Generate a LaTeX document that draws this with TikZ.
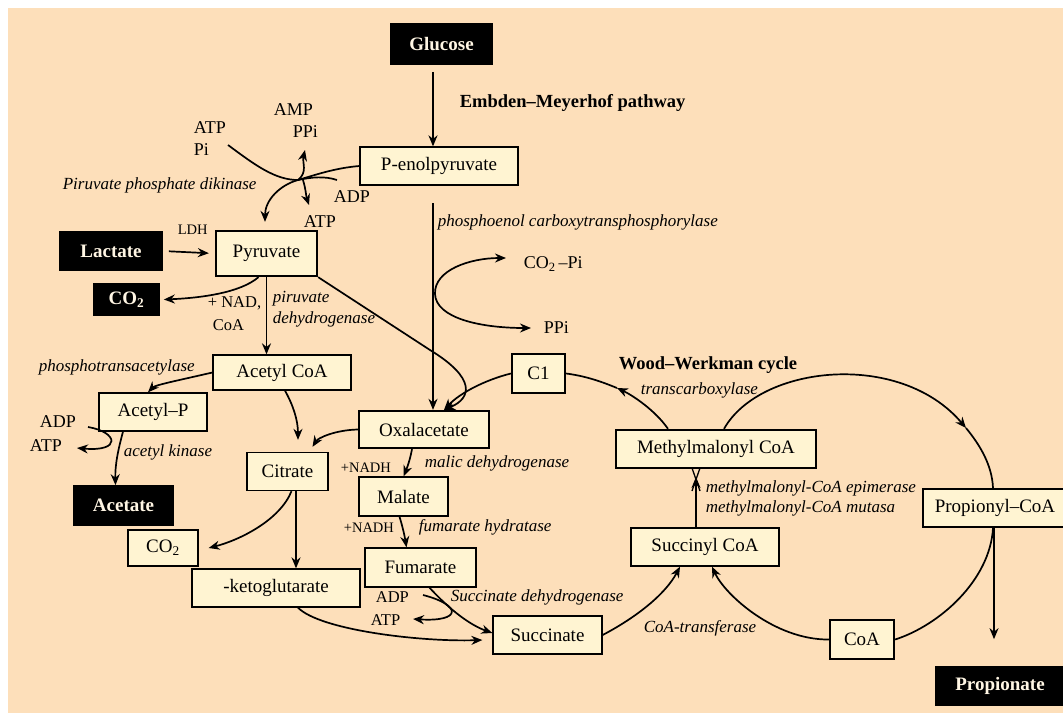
\documentclass[tikz,border=0pt]{standalone}
\usepackage{fontspec}
\setmainfont{Liberation Serif}
\usetikzlibrary{arrows.meta,calc}
\definecolor{bgc}{RGB}{253,223,186}
\definecolor{boxc}{RGB}{255,244,210}
\definecolor{txtw}{RGB}{255,246,228}
\begin{document}
\begin{tikzpicture}[x=1pt,y=-1pt,line width=1.7pt,
  cbox/.style={draw=black,fill=boxc,line width=1.3pt,inner sep=0pt,font=\fontsize{19}{21}\selectfont},
  tbox/.style={cbox,line width=2.3pt},
  bbox/.style={draw=black,fill=black,text=txtw,inner sep=0pt,font=\fontsize{19}{21}\selectfont\bfseries},
  lab/.style={anchor=west,inner sep=0pt,font=\fontsize{18}{20}\selectfont},
  slab/.style={anchor=west,inner sep=0pt,font=\fontsize{16.5}{18}\selectfont},
  tlab/.style={anchor=west,inner sep=0pt,font=\fontsize{14.5}{16}\selectfont},
  enz/.style={anchor=west,inner sep=0pt,font=\fontsize{17}{19}\selectfont\itshape},
  hd/.style={anchor=west,inner sep=0pt,font=\fontsize{18.5}{21}\selectfont\bfseries},
  arr/.style={-{Stealth[length=11pt,width=9pt]}}]
\useasboundingbox (0,0) rectangle (1063,713);
\clip (0,0) rectangle (1063,713);
\fill[bgc] (8,8) rectangle (1063,713);

% ---- boxes ----
\node[bbox,minimum width=101pt,minimum height=40pt] (glc) at (441.5,44) {Glucose};
\node[cbox,minimum width=158pt,minimum height=38pt] (pep) at (439,166) {P-enolpyruvate};
\node[tbox,minimum width=101pt,minimum height=45pt] (pyr) at (266.5,253.5) {Pyruvate};
\node[bbox,minimum width=102pt,minimum height=38pt] (lac) at (111,251) {Lactate};
\node[bbox,minimum width=65pt,minimum height=31pt] (co2a) at (126.5,299.5) {CO\textsubscript{2}};
\node[cbox,minimum width=138pt,minimum height=35pt] (acoa) at (282,372.5) {Acetyl CoA};
\node[cbox,minimum width=108pt,minimum height=38pt] (acp) at (153,412) {Acetyl–P};
\node[bbox,minimum width=99pt,minimum height=39pt] (acet) at (123.5,505.5) {Acetate};
\node[cbox,minimum width=81pt,minimum height=38pt] (cit) at (287.5,471.5) {Citrate};
\node[tbox,minimum width=130pt,minimum height=37pt] (oxa) at (424,429.5) {Oxalacetate};
\node[cbox,minimum width=89pt,minimum height=39pt] (mal) at (403.5,496.5) {Malate};
\node[cbox,minimum width=111pt,minimum height=39pt] (fum) at (420.5,567.5) {Fumarate};
\node[cbox,minimum width=70pt,minimum height=36pt] (co2b) at (163,548) {CO\textsubscript{2}};
\node[cbox,minimum width=168pt,minimum height=38pt] (akg) at (276,588) {-ketoglutarate};
\node[cbox,minimum width=109pt,minimum height=38pt] (succ) at (547.5,635) {Succinate};
\node[cbox,minimum width=148pt,minimum height=38pt] (scoa) at (705,547) {Succinyl CoA};
\node[tbox,minimum width=200pt,minimum height=38pt] (mmc) at (716,449) {Methylmalonyl CoA};
\node[tbox,minimum width=53pt,minimum height=39pt] (c1) at (538.5,373.5) {C1};
\node[tbox,minimum width=144pt,minimum height=38pt] (prop) at (995,508) {Propionyl–CoA};
\node[tbox,minimum width=64pt,minimum height=39pt] (coa) at (862,639.5) {CoA};
\node[bbox,minimum width=128pt,minimum height=39pt] (pnt) at (1000,686) {Propionate};

% ---- labels ----
\node[hd] (emp) at (459,103) {Embden–Meyerhof pathway};
\node[enz] (pect) at (437,222) {phosphoenol carboxytransphosphorylase};
\node[lab] (atpA) at (193,128) {ATP};
\node[lab] (piA) at (193,150) {Pi};
\node[lab] (ampA) at (273,110) {AMP};
\node[lab] (ppiA) at (292,132) {PPi};
\node[lab] (adpB) at (333,197) {ADP};
\node[lab] (atpB) at (303,222) {ATP};
\node[enz] (ppdk) at (62,185) {Piruvate phosphate dikinase};
\node[tlab] (ldh) at (177,230) {LDH};
\node[slab] (nad) at (207,303) {+ NAD,};
\node[slab] (coaL) at (212,325) {CoA};
\node[enz] (pdh1) at (272,299) {piruvate};
\node[enz] (pdh2) at (272,319) {dehydrogenase};
\node[enz] (pta) at (38,367) {phosphotransacetylase};
\node[lab] (adpC) at (39,422) {ADP};
\node[lab] (atpC) at (29,446) {ATP};
\node[enz] (ack) at (123,452) {acetyl kinase};
\node[lab] (co2pi) at (523,264) {CO\textsubscript{2}\,–Pi};
\node[lab] (ppiB) at (543,328) {PPi};
\node[hd] (wwc) at (618,365) {Wood–Werkman cycle};
\node[enz] (tcb) at (640,390) {transcarboxylase};
\node[tlab] (nadh1) at (340,468) {+NADH};
\node[enz] (mdh) at (424,463) {malic dehydrogenase};
\node[tlab] (nadh2) at (343,528) {+NADH};
\node[enz] (fhy) at (418,527) {fumarate hydratase};
\node[slab] (adpD) at (375,597) {ADP};
\node[slab] (atpD) at (370,620) {ATP};
\node[enz] (sdh) at (450,597) {Succinate dehydrogenase};
\node[enz] (ctf) at (643,628) {CoA-transferase};
\node[enz] (mce) at (705,488) {methylmalonyl-CoA epimerase};
\node[enz] (mcm) at (705,508) {methylmalonyl-CoA mutasa};

% ---- free-end coordinates ----
\coordinate (J) at (298,180);
\coordinate (jAtp) at (228,145);
\coordinate (jAdp) at (337,180);
\coordinate (tPPi) at (305,150);
\coordinate (tAtp) at (309,205);
\coordinate (K) at (435,294);
\coordinate (tCO) at (506,258);
\coordinate (tPP) at (531,328);
\coordinate (pepout) at (433,203);
\coordinate (jAdpC) at (88,427);
\coordinate (tAtpC) at (77,448);
\coordinate (jAdpD) at (423,595);
\coordinate (tAtpD) at (413,619);
\coordinate (mw) at (617,388);
\coordinate (ctop) at (966,428);

% ---- connectors ----
\draw[arr] ([xshift=-8.5pt,yshift=-7pt]glc.south) -- ([xshift=-6pt]pep.north);
\draw[arr] (pepout) -- (pepout |- oxa.north);
\draw[arr] (K) .. controls (434,270) and (470,258) .. (tCO);
\draw[arr] (K) .. controls (436,318) and (480,328) .. (tPP);

\draw (jAtp) .. controls (255,165) and (275,180) .. (J);
\draw (pep.west) .. controls (335,168) and (315,175) .. (J);
\draw (jAdp) .. controls (325,176) and (312,177) .. (J);
\draw[arr] (J) .. controls (308,172) and (302,163) .. (tPPi);
\draw[arr] (J) .. controls (280,185) and (265,200) .. ([xshift=-1.5pt,yshift=8pt]pyr.north);
\draw[arr] ([xshift=5pt]J) .. controls (306,190) and (306,196) .. (tAtp);

\draw[arr,shorten <=6pt,shorten >=6pt] (lac.east) -- (pyr.west);
\draw[arr] ([xshift=-8pt]pyr.south) .. controls (240,293) and (200,298) .. ([xshift=4pt]co2a.east);
\draw[arr] (pyr.south) -- (pyr.south |- acoa.north);
\draw[arr] (pyr.south east) -- (430,350) .. controls (476,378) and (472,398) .. ([xshift=20pt]oxa.north);
\draw[arr] (c1.west) .. controls (485,380) and (460,393) .. ([xshift=20pt]oxa.north);

\draw[arr] ([xshift=-48pt]mmc.north) .. controls (655,410) and (632,395) .. (mw);
\draw (mw) .. controls (600,381) and (585,376) .. (c1.east);

\draw[arr] ([xshift=8pt]mmc.north) .. controls (760,365) and (900,350) .. (ctop);
\draw (ctop) .. controls (980,445) and (992,465) .. (prop.north -| 993,0);
\draw (prop.south -| 993,0) .. controls (990,580) and (940,625) .. (coa.east);
\draw[arr] (coa.west) .. controls (775,640) and (725,595) .. ([xshift=7pt]scoa.south);
\draw[arr] (succ.east) .. controls (635,618) and (665,595) .. ([xshift=-25pt]scoa.south);

\draw[arr] ([xshift=-9pt]scoa.south |- scoa.north) -- (696,477);
\draw[line width=1.3pt] (692,468) -- (700,491);
\draw[line width=1.3pt] (700,468) -- (692,491);

\draw[arr] (prop.south -| 994,0) -- ++(0,111);

\draw[arr] (acoa.west) .. controls (180,380) and (155,385) .. ([xshift=-5pt]acp.north);
\draw[arr] ([xshift=-30pt]acp.south) .. controls (118,450) and (115,465) .. ([xshift=-8pt]acet.north);
\draw[arr] (jAdpC) .. controls (118,432) and (122,452) .. (tAtpC);

\draw[arr] ([xshift=3pt]acoa.south) .. controls (293,405) and (298,420) .. ([xshift=10.5pt,yshift=12pt]cit.north);
\draw[arr] (oxa.west) .. controls (335,430) and (318,438) .. ([xshift=25pt,yshift=5pt]cit.north);
\draw[arr] ([xshift=-12pt]oxa.south) .. controls (410,460) and (407,468) .. (mal.north);
\draw[arr] ([xshift=-4pt]mal.south) .. controls (403,528) and (405,538) .. ([xshift=-14pt]fum.north);
\draw[arr] ([xshift=9pt]fum.south) .. controls (450,610) and (470,625) .. ([yshift=2pt]succ.west);
\draw[arr] (jAdpD) .. controls (462,605) and (462,622) .. (tAtpD);
\draw[arr] ([xshift=22pt]akg.south) .. controls (320,630) and (420,642) .. ([xshift=-10pt,yshift=-5pt]succ.west);
\draw[arr] ([xshift=4pt]cit.south) .. controls (280,520) and (240,540) .. ([xshift=10pt]co2b.east);
\draw[arr] ([xshift=8.5pt]cit.south) -- ([xshift=8.5pt]cit.south |- akg.north);
\end{tikzpicture}
\end{document}
